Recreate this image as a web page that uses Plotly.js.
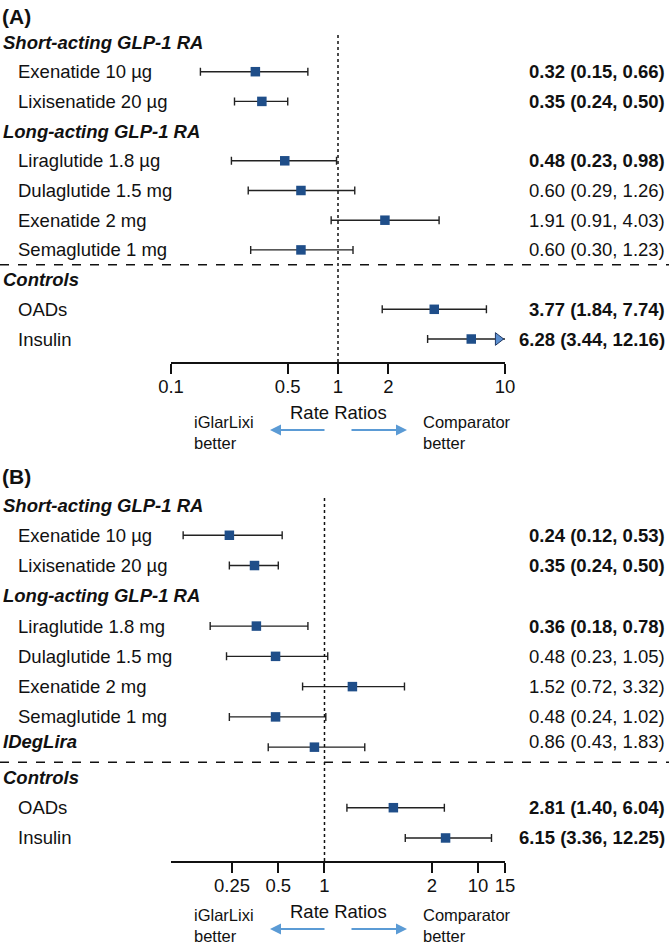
<!DOCTYPE html>
<html>
<head>
<meta charset="utf-8">
<script src="https://cdn.plot.ly/plotly-3.0.1.min.js"></script>
<style>
  html, body { margin: 0; padding: 0; background: #fff; }
  #chart { width: 669px; height: 949px; }
</style>
</head>
<body>
<div id="chart"></div>
<script>
// Panel A
const rowsA = ["Short-acting GLP-1 RA", "Exenatide 10 µg", "Lixisenatide 20 µg",
  "Long-acting GLP-1 RA", "Liraglutide 1.8 µg", "Dulaglutide 1.5 mg", "Exenatide 2 mg",
  "Semaglutide 1 mg", "Controls", "OADs", "Insulin"];
const headerA = [true, false, false, true, false, false, false, false, true, false, false];
const estA = [null, 0.32, 0.35, null, 0.48, 0.60, 1.91, 0.60, null, 3.77, 6.28];
const lowA = [null, 0.15, 0.24, null, 0.23, 0.29, 0.91, 0.30, null, 1.84, 3.44];
const highA = [null, 0.66, 0.50, null, 0.98, 1.26, 4.03, 1.23, null, 7.74, 12.16];
const boldA = [false, true, true, false, true, false, false, false, false, true, true];
const tickValsA = [0.1, 0.5, 1, 2, 10];
const tickTextA = ["0.1", "0.5", "1", "2", "10"];
const rangeA = [0.1, 10];

// Panel B
const rowsB = ["Short-acting GLP-1 RA", "Exenatide 10 µg", "Lixisenatide 20 µg",
  "Long-acting GLP-1 RA", "Liraglutide 1.8 mg", "Dulaglutide 1.5 mg", "Exenatide 2 mg",
  "Semaglutide 1 mg", "IDegLira", "Controls", "OADs", "Insulin"];
const headerB = [true, false, false, true, false, false, false, false, true, true, false, false];
const estB = [null, 0.24, 0.35, null, 0.36, 0.48, 1.52, 0.48, 0.86, null, 2.81, 6.15];
const lowB = [null, 0.12, 0.24, null, 0.18, 0.23, 0.72, 0.24, 0.43, null, 1.40, 3.36];
const highB = [null, 0.53, 0.50, null, 0.78, 1.05, 3.32, 1.02, 1.83, null, 6.04, 12.25];
const boldB = [false, true, true, false, true, false, false, false, false, false, true, true];
// the source figure labels the tick at 5 as "2"
const tickValsB = [0.25, 0.5, 1, 5, 10, 15];
const tickTextB = ["0.25", "0.5", "1", "2", "10", "15"];
const rangeB = [0.1, 15];

const W = 669, H = 949;
const FONT = "Liberation Sans, Arial, Helvetica, sans-serif";
const INK = "#111";
const FS = 18.5;
const px = (x) => x / W;
const py = (y) => 1 - y / H;

const traces = [];
const annotations = [];
const shapes = [];
const layout = {
  width: W, height: H,
  margin: { l: 0, r: 0, t: 0, b: 0 },
  paper_bgcolor: "#fff", plot_bgcolor: "#fff",
  showlegend: false,
  font: { family: FONT, size: FS, color: INK },
  annotations, shapes,
};

function addPanel(p) {
  const xa = p.id === 1 ? "x" : "x2";
  const ya = p.id === 1 ? "y" : "y2";
  const xKey = p.id === 1 ? "xaxis" : "xaxis2";
  const yKey = p.id === 1 ? "yaxis" : "yaxis2";

  layout[xKey] = {
    domain: [px(171), px(505)], anchor: ya, type: "log",
    range: p.range.map(Math.log10),
    tickmode: "array", tickvals: p.tickVals, ticktext: p.tickText,
    ticks: "outside", ticklen: 10, tickwidth: 2, tickcolor: INK,
    ticklabelstandoff: -3,
    showline: true, linewidth: 2, linecolor: INK,
    showgrid: false, zeroline: false, fixedrange: true,
    tickfont: { size: FS, color: INK },
  };
  layout[yKey] = {
    domain: [py(p.axisPx), py(p.topPx)], anchor: xa,
    range: [(p.axisPx - p.firstRowPx) / p.step, (p.topPx - p.firstRowPx) / p.step],
    visible: false, fixedrange: true,
  };

  const idx = p.est.map((v, i) => (v == null ? null : i)).filter((i) => i !== null);
  traces.push({
    type: "scatter", mode: "markers", xaxis: xa, yaxis: ya,
    x: idx.map((i) => p.est[i]), y: idx,
    error_x: {
      type: "data", symmetric: false,
      array: idx.map((i) => p.high[i] - p.est[i]),
      arrayminus: idx.map((i) => p.est[i] - p.low[i]),
      color: "#222", thickness: 1.4, width: 4,
    },
    marker: { symbol: "square", size: 9.5, color: "#1f4e89" },
    hoverinfo: "skip",
  });

  // CI running past the axis end gets an arrow head
  const cut = idx.filter((i) => p.high[i] > p.range[1]);
  if (cut.length) {
    traces.push({
      type: "scatter", mode: "markers", xaxis: xa, yaxis: ya,
      x: cut.map(() => p.range[1] * 0.91), y: cut,
      marker: { symbol: "triangle-right", size: 11, color: "#5b8fd0", line: { color: "#1f3864", width: 1 } },
      hoverinfo: "skip", cliponaxis: false,
    });
  }

  p.rows.forEach((label, i) => {
    const head = p.header[i];
    const shift = head && p.est[i] != null ? 6 : 0;
    annotations.push({
      xref: "paper", x: px(head ? 1 : 16), xanchor: "left",
      yref: ya, y: i, yanchor: "middle", yshift: shift,
      text: head ? `<b><i>${label}</i></b>` : label,
      showarrow: false, font: { size: FS, color: INK },
    });
    if (p.est[i] != null) {
      const txt = `${p.est[i].toFixed(2)} (${p.low[i].toFixed(2)}, ${p.high[i].toFixed(2)})`;
      annotations.push({
        xref: "paper", x: px(667), xanchor: "right",
        yref: ya, y: i, yanchor: "middle", yshift: shift,
        text: p.bold[i] ? `<b>${txt}</b>` : txt,
        showarrow: false, font: { size: FS, color: INK },
      });
    }
  });

  // dashed separator above "Controls"
  const ctrl = p.rows.indexOf("Controls") - 0.5;
  shapes.push({
    type: "line", xref: "paper", x0: 0, x1: 1, yref: ya, y0: ctrl, y1: ctrl,
    line: { color: INK, width: 1.5, dash: "dash" },
  });
  // line of no effect
  shapes.push({
    type: "line", xref: xa, x0: 1, x1: 1, yref: ya + " domain", y0: 0, y1: 1,
    line: { color: INK, width: 1.5, dash: "dot" },
  });

  annotations.push({
    xref: "paper", x: 0, xanchor: "left", yref: "paper", y: py(p.titlePx), yanchor: "middle",
    text: `<b>${p.title}</b>`, showarrow: false, font: { size: 21, color: INK },
  });
  annotations.push({
    xref: "paper", x: px(338), xanchor: "center", yref: "paper", y: py(p.axisPx + 50), yanchor: "middle",
    text: "Rate Ratios", showarrow: false, font: { size: FS, color: INK },
  });
  [["iGlarLixi<br>better", 193], ["Comparator<br>better", 422]].forEach(([t, x]) => {
    annotations.push({
      xref: "paper", x: px(x), xanchor: "left", align: "left", yref: "paper",
      y: py(p.axisPx + p.noteDy), yanchor: "middle", borderpad: 0,
      text: t, showarrow: false, font: { size: 16.5, color: INK },
    });
  });
  [[270, 56], [407, -57]].forEach(([tip, ax]) => {
    annotations.push({
      xref: "paper", x: px(tip), yref: "paper", y: py(p.axisPx + 68),
      ax: ax, ay: 0, text: "", showarrow: true,
      arrowhead: 2, arrowsize: 1.1, arrowwidth: 2, arrowcolor: "#5b9bd5",
    });
  });
}

addPanel({
  id: 1, title: "(A)", titlePx: 16,
  rows: rowsA, header: headerA, est: estA, low: lowA, high: highA, bold: boldA,
  tickVals: tickValsA, tickText: tickTextA, range: rangeA,
  topPx: 33, axisPx: 362, firstRowPx: 42, step: 29.7, noteDy: 70,
});
addPanel({
  id: 2, title: "(B)", titlePx: 477,
  rows: rowsB, header: headerB, est: estB, low: lowB, high: highB, bold: boldB,
  tickVals: tickValsB, tickText: tickTextB, range: rangeB,
  topPx: 498, axisPx: 861, firstRowPx: 505, step: 30.27, noteDy: 64,
});

Plotly.newPlot("chart", traces, layout, { displayModeBar: false, staticPlot: true });
</script>
</body>
</html>
